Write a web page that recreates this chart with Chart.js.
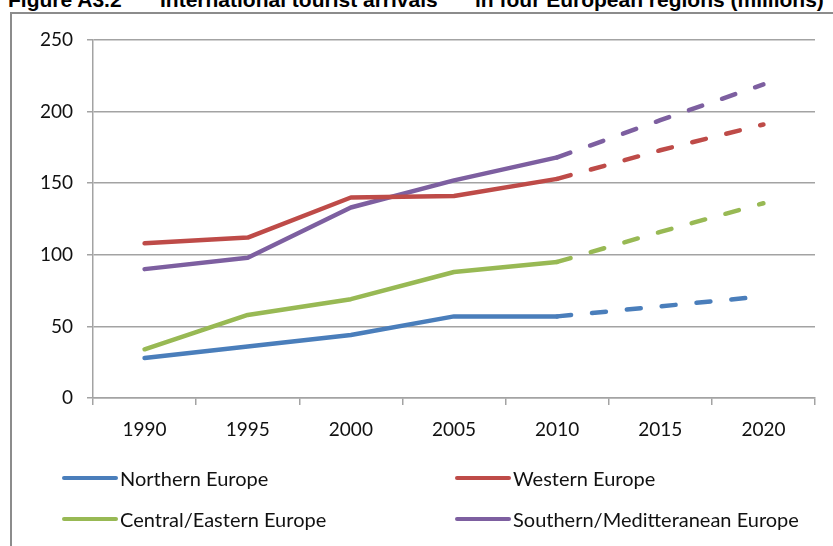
<!DOCTYPE html>
<html>
<head>
<meta charset="utf-8">
<script src="https://cdn.jsdelivr.net/npm/chart.js@4"></script>
<style>
  body { margin: 0; background: #fff; }
  #wrap { position: relative; width: 833px; height: 546px; overflow: hidden; background: #fff; }
  #frame { position: absolute; left: 10px; top: 12px; width: 900px; height: 600px;
           border-left: 2px solid #8c8c8c; border-top: 2px solid #8c8c8c; }
  .title { position: absolute; top: -11px; font: bold 21px "Liberation Sans", Arial, sans-serif;
           line-height: 21px; color: #000; white-space: nowrap; }
  canvas { position: absolute; left: 0; top: 0; }
  .leg { position: absolute; display: flex; align-items: center; height: 22px;
         font: 20px Lato, sans-serif; color: #111; white-space: nowrap; }
  .leg .sw { width: 56px; height: 4.5px; border-radius: 2px; margin-right: 2px; }
</style>
</head>
<body>
<div id="wrap">
  <div id="frame"></div>
  <span class="title" style="left:8px">Figure A3.2</span>
  <span class="title" style="left:160px">International tourist arrivals</span>
  <span class="title" style="left:475px">in four European regions (millions)</span>
  <canvas id="chart" width="833" height="546"></canvas>
  <div id="legend"></div>
</div>
<script>
// years on the x axis, 2015 and 2020 are projections
const years = ['1990', '1995', '2000', '2005', '2010', '2015', '2020'];
const seriesNames = ['Northern Europe', 'Western Europe', 'Central/Eastern Europe', 'Southern/Meditteranean Europe'];

// millions of arrivals
const northern = [28, 36, 44, 57, 57, 64, 71];
const western = [108, 112, 140, 141, 153, 173, 191];
const central = [34, 58, 69, 88, 95, 116, 136];
const southern = [90, 98, 133, 152, 168, 194, 219];

const colors = ['#4a7ebb', '#be4b48', '#98b954', '#7d5fa0'];
const lastActual = 4; // index of 2010, dashed after this

const allSeries = [northern, western, central, southern];

const datasets = allSeries.map((data, i) => ({
  label: seriesNames[i],
  data: data,
  borderColor: colors[i],
  backgroundColor: colors[i],
  borderWidth: 4.5,
  borderCapStyle: 'round',
  borderJoinStyle: 'round',
  pointRadius: 0,
  tension: 0,
  segment: {
    borderDash: ctx => ctx.p0DataIndex >= lastActual ? [14, 21] : undefined
  }
}));

const gridColor = '#a3a3a3';
const tickFont = { family: 'Lato', size: 19 };

new Chart(document.getElementById('chart'), {
  type: 'line',
  data: { labels: years, datasets: datasets },
  options: {
    responsive: false,
    animation: false,
    layout: { padding: { left: 0, right: 18, top: 40, bottom: 98 } },
    plugins: { legend: { display: false }, tooltip: { enabled: false } },
    scales: {
      x: {
        offset: true,
        grid: { offset: true, drawOnChartArea: false, drawTicks: true, tickLength: 7, color: gridColor, lineWidth: 1.5 },
        border: { color: gridColor, width: 1.5 },
        ticks: { font: tickFont, color: '#111', padding: 13, maxRotation: 0 },
        afterFit: s => { s.height = 50; }
      },
      y: {
        min: 0, max: 250,
        ticks: { stepSize: 50, font: tickFont, color: '#111', padding: 14 },
        grid: { color: gridColor, lineWidth: 1.5, tickLength: 6 },
        border: { color: gridColor, width: 1.5 },
        afterFit: s => { s.width = 93; }
      }
    }
  }
});

// legend in two columns, like the original
const legend = document.getElementById('legend');
const legPos = [[62, 467], [455, 467], [62, 508], [455, 508]];
seriesNames.forEach((name, i) => {
  const item = document.createElement('div');
  item.className = 'leg';
  item.style.left = legPos[i][0] + 'px';
  item.style.top = legPos[i][1] + 'px';
  item.innerHTML = `<span class="sw" style="background:${colors[i]}"></span><span>${name}</span>`;
  legend.appendChild(item);
});
</script>
</body>
</html>
